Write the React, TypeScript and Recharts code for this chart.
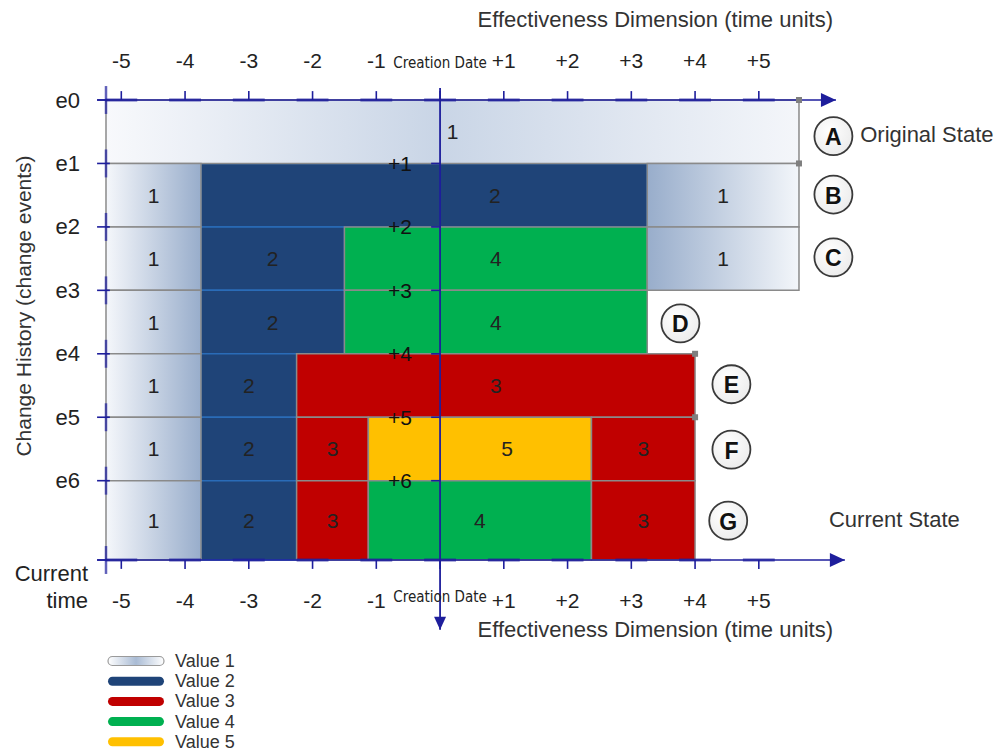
import React from "react";
import {
  ComposedChart,
  XAxis,
  YAxis,
  ReferenceArea,
  ReferenceLine,
  ReferenceDot,
  Scatter,
  Legend,
  Label,
} from "recharts";

// effectiveness dimension (time units), 0 = creation date
const timeTicks = [-5, -4, -3, -2, -1, 0, 1, 2, 3, 4, 5];
const timeTickLabels = ["-5", "-4", "-3", "-2", "-1", "Creation Date", "+1", "+2", "+3", "+4", "+5"];

// change history rows
const eventTicks = [0, 1, 2, 3, 4, 5, 6, 7.25];
const eventLabels = ["e0", "e1", "e2", "e3", "e4", "e5", "e6", "Current time"];
const changeSteps = [1, 2, 3, 4, 5, 6];
const changeStepLabels = ["+1", "+2", "+3", "+4", "+5", "+6"];

type Cell = { from: number; to: number; value: number; labelAt?: number };

const stateA: Cell[] = [{ from: -5.24, to: 5.63, value: 1 }];
const stateB: Cell[] = [
  { from: -5.24, to: -3.75, value: 1 },
  { from: -3.75, to: 3.25, value: 2, labelAt: 0.86 },
  { from: 3.25, to: 5.63, value: 1 },
];
const stateC: Cell[] = [
  { from: -5.24, to: -3.75, value: 1 },
  { from: -3.75, to: -1.5, value: 2 },
  { from: -1.5, to: 3.25, value: 4 },
  { from: 3.25, to: 5.63, value: 1 },
];
const stateD: Cell[] = [
  { from: -5.24, to: -3.75, value: 1 },
  { from: -3.75, to: -1.5, value: 2 },
  { from: -1.5, to: 3.25, value: 4 },
];
const stateE: Cell[] = [
  { from: -5.24, to: -3.75, value: 1 },
  { from: -3.75, to: -2.25, value: 2 },
  { from: -2.25, to: 4, value: 3 },
];
const stateF: Cell[] = [
  { from: -5.24, to: -3.75, value: 1 },
  { from: -3.75, to: -2.25, value: 2 },
  { from: -2.25, to: -1.125, value: 3 },
  { from: -1.125, to: 2.375, value: 5, labelAt: 1.05 },
  { from: 2.375, to: 4, value: 3 },
];
const stateG: Cell[] = [
  { from: -5.24, to: -3.75, value: 1 },
  { from: -3.75, to: -2.25, value: 2 },
  { from: -2.25, to: -1.125, value: 3 },
  { from: -1.125, to: 2.375, value: 4 },
  { from: 2.375, to: 4, value: 3 },
];
const stateRows = [stateA, stateB, stateC, stateD, stateE, stateF, stateG];

const stateLetters = ["A", "B", "C", "D", "E", "F", "G"];
const letterX = [6.17, 6.17, 6.17, 3.77, 4.57, 4.57, 4.52];
const letterY = [0.57, 1.49, 2.48, 3.52, 4.48, 5.51, 6.63];

const stateNotes = [
  { text: "Original State", x: 6.59, y: 0.55 },
  { text: "Current State", x: 6.1, y: 6.61 },
];

const joints = [
  { x: 5.63, y: 0 },
  { x: 5.63, y: 1 },
  { x: 4, y: 4 },
  { x: 4, y: 5 },
];

const legendItems = [
  { label: "Value 1", value: 1 },
  { label: "Value 2", value: 2 },
  { label: "Value 3", value: 3 },
  { label: "Value 4", value: 4 },
  { label: "Value 5", value: 5 },
];

const valueColors: Record<number, string> = {
  2: "#1f4478",
  3: "#c00000",
  4: "#00b050",
  5: "#ffc000",
};

const W = 997;
const H = 750;
const X_MIN = -5.24;
const X_MAX = 8.736;
const Y_MAX = 7.25;
const AXIS_START = -5.38;
const NAVY = "#1e1e9c";
const FONT = "'Liberation Sans', Arial, sans-serif";
const NARROW = "'Liberation Sans Narrow', 'DejaVu Sans Condensed', sans-serif";

const edgeLeft = Math.min(...stateRows.flat().map((c) => c.from));
const edgeRight = Math.max(...stateRows.flat().map((c) => c.to));

const allCells = stateRows.flatMap((cells, i) =>
  cells.map((c, j) => ({ ...c, top: eventTicks[i], bottom: eventTicks[i + 1], key: `${i}-${j}` })),
);
// dark blue cells first so neighbouring grey borders stay on top
const drawOrder = [...allCells].sort((a, b) => (a.value === 2 ? 0 : 1) - (b.value === 2 ? 0 : 1));

const cellLabels = allCells.map((c) => ({
  x: c.labelAt ?? (c.from + c.to) / 2,
  y: (c.top + c.bottom) / 2,
  text: String(c.value),
}));
const stepLabels = changeSteps.map((s, i) => ({ x: -0.63, y: s, text: changeStepLabels[i] }));
const letterPoints = stateLetters.map((l, i) => ({ x: letterX[i], y: letterY[i], text: l }));

function fillFor(c: Cell) {
  if (c.value !== 1) return valueColors[c.value];
  const atLeft = c.from <= edgeLeft;
  const atRight = c.to >= edgeRight;
  if (atLeft && atRight) return "url(#v1both)";
  return atLeft ? "url(#v1rise)" : "url(#v1fall)";
}

function renderTimeTick(kind: "top" | "bottom") {
  return (props: any) => {
    const { x, y, payload } = props;
    const text = timeTickLabels[timeTicks.indexOf(payload.value)];
    if (payload.value === 0) {
      return (
        <text x={x} y={y + (kind === "top" ? 3 : -3)} textAnchor="middle" dominantBaseline="central"
          fontFamily={NARROW} fontSize={15} fill="#222">
          {text}
        </text>
      );
    }
    return (
      <text x={x} y={y} textAnchor="middle" dominantBaseline="central" fontFamily={FONT} fontSize={21} fill="#222">
        {text}
      </text>
    );
  };
}

function renderEventTick(props: any) {
  const { x, y, payload } = props;
  const i = eventTicks.indexOf(payload.value);
  const text = eventLabels[i];
  if (i === eventTicks.length - 1) {
    const [a, b] = text.split(" ");
    return (
      <g fontFamily={FONT} fontSize={22} fill="#222" textAnchor="end">
        <text x={x + 8} y={y + 13} dominantBaseline="central">{a}</text>
        <text x={x + 8} y={y + 40} dominantBaseline="central">{b}</text>
      </g>
    );
  }
  return (
    <text x={x} y={y} textAnchor="end" dominantBaseline="central" fontFamily={FONT} fontSize={22} fill="#222">
      {text}
    </text>
  );
}

const textShape = (size: number, color: string, anchor: "middle" | "start" = "middle") => (props: any) => (
  <text x={props.cx} y={props.cy} textAnchor={anchor} dominantBaseline="central" fontFamily={FONT}
    fontSize={size} fill={color}>
    {props.payload.text}
  </text>
);

const letterShape = (props: any) => (
  <g>
    <circle cx={props.cx} cy={props.cy} r={19} fill="url(#badge)" stroke="#3a3a3a" strokeWidth={1.8} />
    <text x={props.cx} y={props.cy + 1} textAnchor="middle" dominantBaseline="central" fontFamily={FONT}
      fontSize={23} fontWeight="bold" fill="#111">
      {props.payload.text}
    </text>
  </g>
);

const arrowRight = (props: any) => (
  <polygon points={`${props.cx},${props.cy} ${props.cx - 15},${props.cy - 7} ${props.cx - 15},${props.cy + 7}`} fill={NAVY} />
);
const arrowDown = (props: any) => (
  <polygon points={`${props.cx},${props.cy} ${props.cx - 6},${props.cy - 13} ${props.cx + 6},${props.cy - 13}`} fill={NAVY} />
);
const jointShape = (props: any) => (
  <rect x={props.cx - 3} y={props.cy - 3} width={6} height={6} fill="#7f7f7f" />
);

function LegendBox() {
  return (
    <svg width={200} height={104} style={{ fontFamily: FONT }}>
      <defs>
        <linearGradient id="legendV1" x1="0" x2="1" y1="0" y2="0">
          <stop offset="0%" stopColor="#ffffff" />
          <stop offset="50%" stopColor="#a9bbd4" />
          <stop offset="100%" stopColor="#ffffff" />
        </linearGradient>
      </defs>
      {legendItems.map((item, i) => {
        const cy = 11 + i * 20.2;
        return (
          <g key={item.label}>
            {item.value === 1 ? (
              <rect x={4} y={cy - 4.5} width={56} height={9} rx={4.5} fill="url(#legendV1)" stroke="#9a9a9a" strokeWidth={1.2} />
            ) : (
              <line x1={8.5} x2={55.5} y1={cy} y2={cy} stroke={valueColors[item.value]} strokeWidth={9} strokeLinecap="round" />
            )}
            <text x={71} y={cy} dominantBaseline="central" fontSize={18} fill="#333">
              {item.label}
            </text>
          </g>
        );
      })}
    </svg>
  );
}

const topTitle = (p: any) => {
  const vb = p.viewBox ?? { x: 106, y: 40, width: 891, height: 60 };
  return (
    <text x={vb.x + vb.width - 164} y={vb.y - 21} textAnchor="end" dominantBaseline="central" fontFamily={FONT} fontSize={22} fill="#333">
      Effectiveness Dimension (time units)
    </text>
  );
};
const bottomTitle = (p: any) => {
  const vb = p.viewBox ?? { x: 106, y: 560, width: 891, height: 60 };
  return (
    <text x={vb.x + vb.width - 164} y={vb.y + 69} textAnchor="end" dominantBaseline="central" fontFamily={FONT} fontSize={22} fill="#333">
      Effectiveness Dimension (time units)
    </text>
  );
};
const sideTitle = (p: any) => {
  const vb = p.viewBox ?? { x: 0, y: 100, width: 106, height: 460 };
  const cx = vb.x + 23;
  const cy = vb.y + 206;
  return (
    <text x={cx} y={cy} transform={`rotate(-90, ${cx}, ${cy})`} textAnchor="middle" dominantBaseline="central"
      fontFamily={FONT} fontSize={21} fill="#333">
      Change History (change events)
    </text>
  );
};

const ax = { xAxisId: "bottom", yAxisId: "ev", ifOverflow: "visible" as const };

export default function App() {
  return (
    <div style={{ position: "absolute", left: 0, top: 0, width: W, height: H, background: "#fff" }}>
      <ComposedChart width={W} height={H} margin={{ top: 40, right: 0, bottom: 130, left: 0 }} style={{ fontFamily: FONT }}>
        <defs>
          <linearGradient id="v1rise" x1="0" x2="1" y1="0" y2="0">
            <stop offset="0%" stopColor="#f5f7fb" />
            <stop offset="100%" stopColor="#98adcb" />
          </linearGradient>
          <linearGradient id="v1fall" x1="0" x2="1" y1="0" y2="0">
            <stop offset="0%" stopColor="#98adcb" />
            <stop offset="100%" stopColor="#f3f6fa" />
          </linearGradient>
          <linearGradient id="v1both" x1="0" x2="1" y1="0" y2="0">
            <stop offset="0%" stopColor="#f8f9fc" />
            <stop offset="48%" stopColor="#c9d5e6" />
            <stop offset="100%" stopColor="#f4f6fa" />
          </linearGradient>
          <radialGradient id="badge" cx="0.4" cy="0.35" r="0.7">
            <stop offset="0%" stopColor="#ffffff" />
            <stop offset="100%" stopColor="#ebebeb" />
          </radialGradient>
        </defs>

        <XAxis xAxisId="top" orientation="top" type="number" dataKey="x" domain={[X_MIN, X_MAX]} allowDataOverflow
          ticks={timeTicks} interval={0} height={60} axisLine={false} tickLine={false} tickSize={0} tickMargin={40}
          tick={renderTimeTick("top")} label={<Label content={topTitle} />} />
        <XAxis xAxisId="bottom" orientation="bottom" type="number" dataKey="x" domain={[X_MIN, X_MAX]} allowDataOverflow
          ticks={timeTicks} interval={0} height={60} axisLine={false} tickLine={false} tickSize={0} tickMargin={40}
          tick={renderTimeTick("bottom")} label={<Label content={bottomTitle} />} />
        <YAxis yAxisId="ev" type="number" dataKey="y" domain={[0, Y_MAX]} reversed allowDataOverflow
          ticks={eventTicks} interval={0} width={106} axisLine={false} tickLine={false} tickSize={0} tickMargin={26}
          tick={renderEventTick} label={<Label content={sideTitle} />} />

        {drawOrder.map((c) => (
          <ReferenceArea key={c.key} xAxisId="bottom" yAxisId="ev" x1={c.from} x2={c.to} y1={c.top} y2={c.bottom}
            fill={fillFor(c)} fillOpacity={1} stroke={c.value === 2 ? "#2a6cb8" : "#8a8a8a"} strokeWidth={1.5} />
        ))}

        {/* top and bottom axes */}
        <ReferenceLine {...ax} segment={[{ x: AXIS_START, y: 0 }, { x: 6.21, y: 0 }]} stroke={NAVY} strokeWidth={1.6} />
        <ReferenceLine {...ax} segment={[{ x: AXIS_START, y: Y_MAX }, { x: 6.35, y: Y_MAX }]} stroke={NAVY} strokeWidth={1.6} />
        {timeTicks.map((t) => (
          <React.Fragment key={`t${t}`}>
            <ReferenceLine {...ax} segment={[{ x: t - 0.25, y: 0 }, { x: t + 0.25, y: 0 }]} stroke={NAVY} strokeWidth={3} strokeOpacity={0.7} />
            <ReferenceLine {...ax} segment={[{ x: t, y: 0 }, { x: t, y: -0.14 }]} stroke={NAVY} strokeWidth={1.6} />
            <ReferenceLine {...ax} segment={[{ x: t - 0.25, y: Y_MAX }, { x: t + 0.25, y: Y_MAX }]} stroke={NAVY} strokeWidth={3} strokeOpacity={0.7} />
            <ReferenceLine {...ax} segment={[{ x: t, y: Y_MAX }, { x: t, y: Y_MAX + 0.14 }]} stroke={NAVY} strokeWidth={1.6} />
          </React.Fragment>
        ))}

        {/* left axis ticks */}
        {eventTicks.map((e) => (
          <React.Fragment key={`e${e}`}>
            <ReferenceLine {...ax} segment={[{ x: AXIS_START, y: e }, { x: -5.18, y: e }]} stroke={NAVY} strokeWidth={1.6} />
            <ReferenceLine {...ax} segment={[{ x: X_MIN, y: e - 0.22 }, { x: X_MIN, y: e + 0.22 }]} stroke={NAVY} strokeWidth={2.5} strokeOpacity={0.7} />
          </React.Fragment>
        ))}

        {/* creation date axis */}
        <ReferenceLine {...ax} segment={[{ x: 0, y: -0.19 }, { x: 0, y: 8.35 }]} stroke={NAVY} strokeWidth={1.8} />
        {changeSteps.map((s) => (
          <ReferenceLine key={`s${s}`} {...ax} segment={[{ x: -0.14, y: s }, { x: 0, y: s }]} stroke={NAVY} strokeWidth={1.6} />
        ))}

        <ReferenceDot {...ax} x={6.21} y={0} r={0} shape={arrowRight} />
        <ReferenceDot {...ax} x={6.35} y={Y_MAX} r={0} shape={arrowRight} />
        <ReferenceDot {...ax} x={0} y={8.35} r={0} shape={arrowDown} />
        {joints.map((j, i) => (
          <ReferenceDot key={`j${i}`} {...ax} x={j.x} y={j.y} r={0} shape={jointShape} />
        ))}

        <Scatter xAxisId="bottom" yAxisId="ev" data={cellLabels} shape={textShape(21, "#222")} isAnimationActive={false} />
        <Scatter xAxisId="bottom" yAxisId="ev" data={stepLabels} shape={textShape(21, "#111")} isAnimationActive={false} />
        <Scatter xAxisId="bottom" yAxisId="ev" data={letterPoints} shape={letterShape} isAnimationActive={false} />
        <Scatter xAxisId="bottom" yAxisId="ev" data={stateNotes} shape={textShape(22, "#333", "start")} isAnimationActive={false} />

        <Legend layout="vertical" align="center" verticalAlign="middle" content={() => <LegendBox />}
          wrapperStyle={{ left: 104, top: 650, width: 200, height: 104 }} />
      </ComposedChart>
    </div>
  );
}
